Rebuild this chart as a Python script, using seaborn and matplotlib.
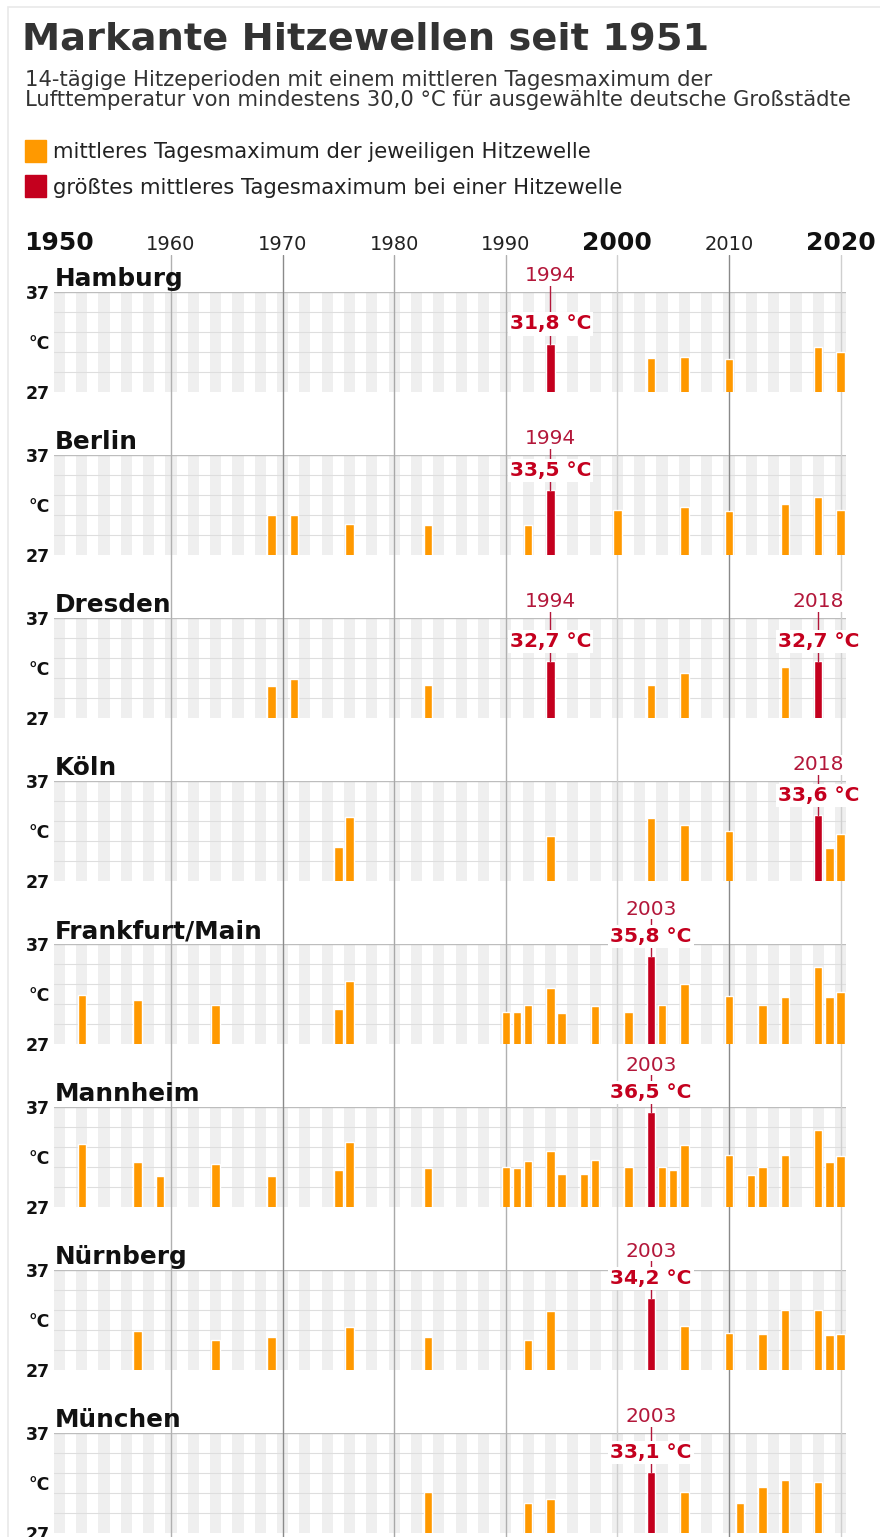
import pandas as pd
import matplotlib
matplotlib.use("Agg")
import matplotlib.pyplot as plt
import matplotlib.transforms as mtransforms
from matplotlib.patches import Rectangle
import seaborn as sns

# Daten: 14-tägige Hitzeperioden (mittleres Tagesmaximum, °C)
cities = ["Hamburg", "Berlin", "Dresden", "Köln",
          "Frankfurt/Main", "Mannheim", "Nürnberg", "München"]

hamburg_years = [1994, 2003, 2006, 2010, 2018, 2020]
hamburg_temps = [31.8, 30.4, 30.5, 30.3, 31.5, 31.0]

berlin_years = [1969, 1971, 1976, 1983, 1992, 1994, 2000, 2006, 2010, 2015, 2018, 2020]
berlin_temps = [31.0, 31.0, 30.1, 30.0, 30.0, 33.5, 31.5, 31.8, 31.4, 32.1, 32.8, 31.5]

dresden_years = [1969, 1971, 1983, 1994, 2003, 2006, 2015, 2018]
dresden_temps = [30.2, 30.9, 30.3, 32.7, 30.3, 31.5, 32.1, 32.7]

koeln_years = [1975, 1976, 1994, 2003, 2006, 2010, 2018, 2019, 2020]
koeln_temps = [30.4, 33.4, 31.5, 33.3, 32.6, 32.0, 33.6, 30.3, 31.7]

frankfurt_years = [1952, 1957, 1964, 1975, 1976, 1990, 1991, 1992, 1994, 1995, 1998,
                   2001, 2003, 2004, 2006, 2010, 2013, 2015, 2018, 2019, 2020]
frankfurt_temps = [31.9, 31.4, 30.9, 30.5, 33.3, 30.2, 30.2, 30.9, 32.6, 30.1, 30.8,
                   30.2, 35.8, 30.9, 33.0, 31.8, 30.9, 31.7, 34.7, 31.7, 32.2]

mannheim_years = [1952, 1957, 1959, 1964, 1969, 1975, 1976, 1983, 1990, 1991, 1992,
                  1994, 1995, 1997, 1998, 2001, 2003, 2004, 2005, 2006, 2010, 2012,
                  2013, 2015, 2018, 2019, 2020]
mannheim_temps = [33.3, 31.5, 30.1, 31.3, 30.1, 30.7, 33.5, 30.9, 31.0, 30.9, 31.6,
                  32.6, 30.3, 30.3, 31.7, 31.0, 36.5, 31.0, 30.7, 33.2, 32.2, 30.2,
                  31.0, 32.2, 34.7, 31.5, 32.1]

nuernberg_years = [1957, 1964, 1969, 1976, 1983, 1992, 1994, 2003, 2006, 2010, 2013,
                   2015, 2018, 2019, 2020]
nuernberg_temps = [30.9, 30.0, 30.3, 31.3, 30.3, 30.0, 32.9, 34.2, 31.4, 30.7, 30.6,
                   33.0, 33.0, 30.5, 30.6]

muenchen_years = [1983, 1992, 1994, 2003, 2006, 2011, 2013, 2015, 2018]
muenchen_temps = [31.1, 30.0, 30.4, 33.1, 31.1, 30.0, 31.6, 32.3, 32.1]

city_years = [hamburg_years, berlin_years, dresden_years, koeln_years,
              frankfurt_years, mannheim_years, nuernberg_years, muenchen_years]
city_temps = [hamburg_temps, berlin_temps, dresden_temps, koeln_temps,
              frankfurt_temps, mannheim_temps, nuernberg_temps, muenchen_temps]
record_years = [[1994], [1994], [1994, 2018], [2018], [2003], [2003], [2003], [2003]]

decades = [1950, 1960, 1970, 1980, 1990, 2000, 2010, 2020]
big_decades = [1950, 2000, 2020]
all_years = list(range(1950, 2021))

ORANGE = "#ff9900"
RED = "#c4001e"
TXT_RED = "#b3173a"

sns.set_theme(style="white")
plt.rcParams["font.family"] = ["DejaVu Sans"]

W, H = 880, 1537
fig = plt.figure(figsize=(W / 100, H / 100), dpi=100)
fig.patch.set_facecolor("white")


def fx(px):
    return px / W


def fy(py):
    return 1 - py / H


X0, XW = 53.8, 792.4
xlim = (-0.5, 70.5)

# Rahmen
fig.patches.append(Rectangle((fx(8), fy(H + 20)), fx(W + 20), (H + 13) / H,
                             transform=fig.transFigure, fill=False,
                             ec="#e9e9e9", lw=1.2))

# Titel, Untertitel, Legende
fig.text(fx(22), fy(50), "Markante Hitzewellen seit 1951", fontsize=27.6,
         fontweight="bold", color="#333333", va="baseline")
fig.text(fx(25), fy(86), "14-tägige Hitzeperioden mit einem mittleren Tagesmaximum der",
         fontsize=15.2, color="#333333", va="baseline")
fig.text(fx(25), fy(106), "Lufttemperatur von mindestens 30,0 °C für ausgewählte deutsche Großstädte",
         fontsize=15.2, color="#333333", va="baseline")

fig.patches.append(Rectangle((fx(25), fy(162)), fx(21), 22 / H,
                             transform=fig.transFigure, color=ORANGE))
fig.patches.append(Rectangle((fx(25), fy(197)), fx(21), 22 / H,
                             transform=fig.transFigure, color=RED))
fig.text(fx(53), fy(158), "mittleres Tagesmaximum der jeweiligen Hitzewelle",
         fontsize=15.2, color="#222222", va="baseline")
fig.text(fx(53), fy(194), "größtes mittleres Tagesmaximum bei einer Hitzewelle",
         fontsize=15.2, color="#222222", va="baseline")

# Hintergrund-Achse für durchgehende Jahrzehntlinien
bg = fig.add_axes([fx(X0), 0, fx(XW), fy(255)])
bg.set_xlim(xlim)
bg.set_ylim(0, 1)
bg.axis("off")
line_colors = {1960: "#b0b0b0", 1970: "#8a8a8a", 1980: "#a8a8a8", 1990: "#b0b0b0",
               2000: "#cfcfcf", 2010: "#8a8a8a", 2020: "#cfcfcf"}
for d in decades[1:]:
    bg.axvline(d - 1950, color=line_colors[d], lw=1.0)

trans = mtransforms.blended_transform_factory(bg.transData, fig.transFigure)
for d in decades:
    if d in big_decades:
        fig.text(d - 1950, fy(250), str(d), transform=trans, ha="center",
                 va="baseline", fontsize=18, fontweight="bold", color="#111111")
    else:
        fig.text(d - 1950, fy(250), str(d), transform=trans, ha="center",
                 va="baseline", fontsize=14, color="#222222")

# Panels
for i, city in enumerate(cities):
    top = 292.0 + i * 163.05
    ax = fig.add_axes([fx(X0), fy(top + 100), fx(XW), 100 / H])
    ax.set_facecolor("none")

    for p in range(0, 71, 2):
        ax.axvspan(p - 0.5, p + 0.5, color="#efefef", lw=0, zorder=0)
    for v in [29, 31, 33, 35]:
        ax.axhline(v, color="#dedede", lw=0.8, zorder=0.5)
    ax.axhline(37, color="#bdbdbd", lw=1.0, zorder=0.5)
    for d in decades[1:]:
        ax.axvline(d - 1950, color=line_colors[d], lw=1.0, zorder=1)

    yrs = city_years[i]
    tmp = city_temps[i]
    df = pd.DataFrame({
        "year": yrs,
        "temp": tmp,
        "kind": ["max" if y in record_years[i] else "normal" for y in yrs],
    })
    sns.barplot(data=df, x="year", y="temp", hue="kind", order=all_years,
                hue_order=["normal", "max"],
                palette={"normal": ORANGE, "max": RED}, dodge=False,
                width=0.74, errorbar=None, legend=False, saturation=1,
                ax=ax, zorder=2)

    ax.set_xlim(xlim)
    ax.set_ylim(27, 37)
    ax.set_xticks([])
    ax.set_xlabel("")
    ax.set_ylabel("")
    for s in ax.spines.values():
        s.set_visible(False)
    ax.set_yticks([27, 32, 37], ["27", "°C", "37"])
    ax.tick_params(axis="y", length=0, pad=3, labelsize=12.5)
    for lab in ax.get_yticklabels():
        lab.set_fontweight("bold")
        lab.set_color("#111111")

    ax.text(-0.45, 37.6, city, fontsize=17.8, fontweight="bold",
            va="baseline", ha="left", color="#111111", zorder=5)

    for ry in record_years[i]:
        t = tmp[yrs.index(ry)]
        p = ry - 1950
        vy = t + 2.0
        yy = max(vy + 2.7, 38.65)
        ax.plot([p, p], [t, yy - 0.8], color=TXT_RED, lw=1, clip_on=False, zorder=3)
        ax.text(p, vy, f"{t:.1f} °C".replace(".", ","), ha="center", va="center",
                fontsize=14.5, fontweight="bold", color=RED, clip_on=False, zorder=4,
                bbox=dict(fc="white", ec="none", pad=1.5))
        ax.text(p, yy, str(ry), ha="center", va="center", fontsize=14.5,
                color=TXT_RED, clip_on=False, zorder=4,
                bbox=dict(fc="white", ec="none", pad=0.5))

fig.savefig("out.png", dpi=100, facecolor="white")
